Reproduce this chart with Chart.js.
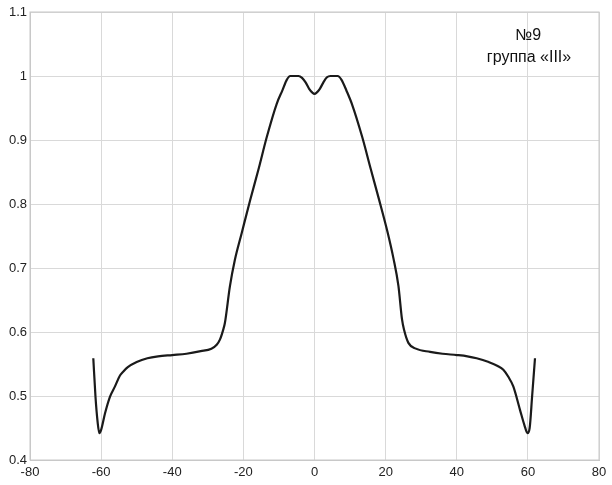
<!DOCTYPE html>
<html>
<head>
<meta charset="utf-8">
<script src="https://cdn.jsdelivr.net/npm/chart.js@4/dist/chart.umd.min.js"></script>
<style>
  body { margin: 0; background: #fff; }
  canvas { display: block; }
</style>
</head>
<body>
<canvas id="grafico" width="612" height="485"></canvas>
<script>
// Profile values (x position / relative level)
const posicoes = [
  -62.2, -61.6, -61.0, -60.5, -60.0, -58.9, -57.5, -56.1, -54.7, -53.8,
  -52.5, -50, -47, -44, -40, -36, -32, -29, -27.5, -26.6,
  -25.7, -25.2, -23.8, -22.4, -20.5, -18.1, -15.8, -13.4, -10.6, -9,
  -7.8, -6.8, -4.5, -3.5, -2.5, -1.5, -0.6, 0, 0.6, 1.5,
  2.5, 3.5, 4.5, 6.5, 7.6, 9, 10.6, 13.4, 15.8, 18.1,
  20.5, 22.2, 23.6, 24.6, 25.2, 26.4, 28.5, 32.5, 36, 40,
  43, 45.6, 49, 51.5, 53.1, 54.5, 55.9, 57.8, 59, 59.9,
  60.5, 61.2, 62
];
const niveis = [
  0.559, 0.50, 0.46, 0.442, 0.447, 0.473, 0.499, 0.515, 0.532, 0.538,
  0.545, 0.553, 0.559, 0.562, 0.564, 0.566, 0.570, 0.574, 0.580, 0.588,
  0.603, 0.614, 0.671, 0.7125, 0.754, 0.806, 0.853, 0.905, 0.957, 0.978,
  0.994, 1.0, 1.0, 0.997, 0.99, 0.98, 0.974, 0.972, 0.974, 0.98,
  0.99, 0.998, 1.0, 1.0, 0.994, 0.977, 0.955, 0.905, 0.855, 0.808,
  0.757, 0.715, 0.672, 0.62, 0.603, 0.583, 0.574, 0.569, 0.566, 0.564,
  0.562, 0.559, 0.553, 0.547, 0.541, 0.53, 0.515, 0.478, 0.455, 0.442,
  0.45, 0.50, 0.559
];

// Axis settings
const eixoX = { min: -80, max: 80, passo: 20 };
const eixoY = { min: 0.4, max: 1.1, passo: 0.1 };

// Caption in the top right corner
const legenda = ['№9', 'группа «III»'];

const pontos = [];
for (let i = 0; i < posicoes.length; i++) {
  pontos.push({ x: posicoes[i], y: niveis[i] });
}

// Draws the caption as text on the canvas
const pluginLegenda = {
  id: 'legendaTexto',
  afterDraw(chart) {
    const ctx = chart.ctx;
    ctx.save();
    ctx.fillStyle = '#111';
    ctx.font = '16px "Liberation Sans", Arial, sans-serif';
    ctx.textAlign = 'center';
    ctx.textBaseline = 'middle';
    ctx.fillText(legenda[0], 528, 36);
    ctx.fillText(legenda[1], 529, 58);
    ctx.restore();
  }
};

const corGrade = '#d9d9d9';
const fonteTicks = { family: '"Liberation Sans", Arial, sans-serif', size: 13 };

new Chart(document.getElementById('grafico').getContext('2d'), {
  type: 'scatter',
  data: {
    datasets: [{
      data: pontos,
      showLine: true,
      borderColor: '#1a1a1a',
      borderWidth: 2.2,
      pointRadius: 0,
      cubicInterpolationMode: 'monotone',
      fill: false
    }]
  },
  options: {
    responsive: false,
    animation: false,
    layout: { padding: { top: 12, right: 13, left: 0, bottom: 0 } },
    plugins: { legend: { display: false }, tooltip: { enabled: false } },
    scales: {
      x: {
        type: 'linear',
        min: eixoX.min,
        max: eixoX.max,
        ticks: { stepSize: eixoX.passo, color: '#222', font: fonteTicks, padding: 5 },
        grid: { color: corGrade, drawTicks: false },
        border: { color: '#c8c8c8' },
        afterFit(scale) { scale.height = 25; }
      },
      y: {
        min: eixoY.min,
        max: eixoY.max,
        ticks: {
          stepSize: eixoY.passo, color: '#222', font: fonteTicks, padding: 3,
          // 1 instead of 1.0, like the original
          callback: (valor) => String(parseFloat(valor.toFixed(1)))
        },
        grid: { color: corGrade, drawTicks: false },
        border: { color: '#c8c8c8' },
        afterFit(scale) { scale.width = 30; }
      }
    }
  },
  plugins: [pluginLegenda, {
    // right and top edges of the plot box
    id: 'moldura',
    afterDraw(chart) {
      const a = chart.chartArea;
      const ctx = chart.ctx;
      ctx.save();
      ctx.strokeStyle = '#c8c8c8';
      ctx.lineWidth = 1;
      ctx.strokeRect(a.left, a.top, a.right - a.left, a.bottom - a.top);
      ctx.restore();
    }
  }]
});
</script>
</body>
</html>
